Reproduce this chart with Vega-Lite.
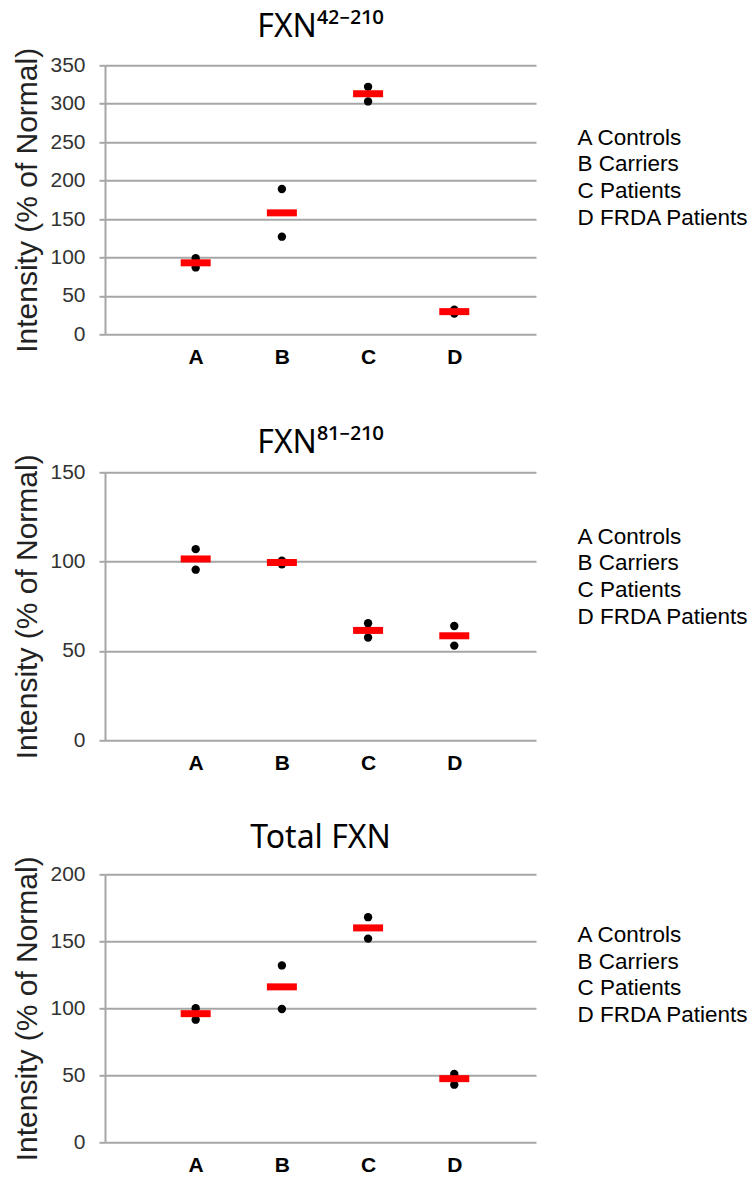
{
  "$schema": "https://vega.github.io/schema/vega-lite/v6.json",
  "background": "white",
  "padding": {"left": 12, "top": 10.3, "right": 0, "bottom": 0},
  "spacing": 59,
  "resolve": {"scale": {"color": "independent"}, "legend": {"color": "independent"}},
  "config": {
    "font": "Liberation Sans",
    "view": {"stroke": null},
    "title": {"fontSize": 32, "fontWeight": "normal", "color": "#000000", "anchor": "middle", "font": "Noto Sans"},
    "axisY": {
      "domainColor": "#a6a6a6", "domainWidth": 2,
      "gridColor": "#a6a6a6", "gridWidth": 2,
      "tickColor": "#a6a6a6", "tickWidth": 2, "tickSize": 6,
      "labelFontSize": 21, "labelColor": "#333333", "labelPadding": 14,
      "titleFontSize": 30, "titleFontWeight": "normal", "titleColor": "#222222", "titlePadding": 7
    },
    "axisX": {
      "domain": false, "ticks": false, "grid": false,
      "labelFontSize": 21, "labelFontWeight": "bold", "labelColor": "#000000", "labelPadding": 12,
      "labelAngle": 0, "title": null
    },
    "legend": {
      "orient": "none", "title": null, "padding": 0,
      "symbolSize": 0, "symbolStrokeWidth": 0, "symbolOpacity": 0,
      "labelOffset": 0, "labelFontSize": 22.5, "labelColor": "#000000",
      "rowPadding": 3.7, "labelLimit": 300
    }
  },
  "datasets": {
    "groups": [
      {"group": "A", "desc": "A Controls"},
      {"group": "B", "desc": "B Carriers"},
      {"group": "C", "desc": "C Patients"},
      {"group": "D", "desc": "D FRDA Patients"}
    ],
    "values": [
      {"panel": "p42", "group": "A", "stat": "sample", "value": 99},
      {"panel": "p42", "group": "A", "stat": "sample", "value": 87},
      {"panel": "p42", "group": "A", "stat": "mean", "value": 93},
      {"panel": "p42", "group": "B", "stat": "sample", "value": 189},
      {"panel": "p42", "group": "B", "stat": "sample", "value": 127},
      {"panel": "p42", "group": "B", "stat": "mean", "value": 158},
      {"panel": "p42", "group": "C", "stat": "sample", "value": 322},
      {"panel": "p42", "group": "C", "stat": "sample", "value": 303},
      {"panel": "p42", "group": "C", "stat": "mean", "value": 313},
      {"panel": "p42", "group": "D", "stat": "sample", "value": 32},
      {"panel": "p42", "group": "D", "stat": "sample", "value": 27},
      {"panel": "p42", "group": "D", "stat": "mean", "value": 29.5},
      {"panel": "p81", "group": "A", "stat": "sample", "value": 107},
      {"panel": "p81", "group": "A", "stat": "sample", "value": 95.5},
      {"panel": "p81", "group": "A", "stat": "mean", "value": 101.5},
      {"panel": "p81", "group": "B", "stat": "sample", "value": 100.5},
      {"panel": "p81", "group": "B", "stat": "sample", "value": 98.5},
      {"panel": "p81", "group": "B", "stat": "mean", "value": 99.5},
      {"panel": "p81", "group": "C", "stat": "sample", "value": 65.5},
      {"panel": "p81", "group": "C", "stat": "sample", "value": 57.5},
      {"panel": "p81", "group": "C", "stat": "mean", "value": 61.5},
      {"panel": "p81", "group": "D", "stat": "sample", "value": 64},
      {"panel": "p81", "group": "D", "stat": "sample", "value": 53},
      {"panel": "p81", "group": "D", "stat": "mean", "value": 58.5},
      {"panel": "total", "group": "A", "stat": "sample", "value": 100},
      {"panel": "total", "group": "A", "stat": "sample", "value": 91.5},
      {"panel": "total", "group": "A", "stat": "mean", "value": 96},
      {"panel": "total", "group": "B", "stat": "sample", "value": 132},
      {"panel": "total", "group": "B", "stat": "sample", "value": 99.5},
      {"panel": "total", "group": "B", "stat": "mean", "value": 116},
      {"panel": "total", "group": "C", "stat": "sample", "value": 168},
      {"panel": "total", "group": "C", "stat": "sample", "value": 152},
      {"panel": "total", "group": "C", "stat": "mean", "value": 160},
      {"panel": "total", "group": "D", "stat": "sample", "value": 51},
      {"panel": "total", "group": "D", "stat": "sample", "value": 43},
      {"panel": "total", "group": "D", "stat": "mean", "value": 47.5}
    ]
  },
  "vconcat": [
    {
      "title": {"text": "FXN⁴²⁻²¹⁰", "offset": 3.4},
      "width": 431, "height": 269,
      "data": {"name": "values"},
      "transform": [
        {"filter": "datum.panel === 'p42'"},
        {"lookup": "group", "from": {"data": {"name": "groups"}, "key": "group", "fields": ["desc"]}}
      ],
      "encoding": {
        "x": {"field": "group", "type": "nominal", "scale": {"type": "point", "padding": 1, "align": 0.526}},
        "y": {"field": "value", "type": "quantitative", "scale": {"domain": [0, 350], "nice": false}, "axis": {"values": [0, 50, 100, 150, 200, 250, 300, 350], "title": "Intensity (% of Normal)"}}
      },
      "layer": [
        {
          "transform": [{"filter": "datum.stat === 'sample'"}],
          "mark": {"type": "point", "filled": true, "size": 70, "opacity": 1},
          "encoding": {
            "color": {"field": "desc", "type": "nominal", "scale": {"range": ["#000000", "#000000", "#000000", "#000000"]}, "legend": {"legendX": 450, "legendY": 61}}
          }
        },
        {
          "transform": [{"filter": "datum.stat === 'mean'"}],
          "mark": {"type": "tick", "color": "#ff0000", "thickness": 7, "size": 30, "opacity": 1}
        }
      ]
    },
    {
      "spacing": 48,
      "resolve": {"scale": {"color": "independent"}, "legend": {"color": "independent"}},
      "vconcat": [
        {
          "title": {"text": "FXN⁸¹⁻²¹⁰", "offset": -6},
          "width": 431, "height": 268,
          "data": {"name": "values"},
          "transform": [
            {"filter": "datum.panel === 'p81'"},
            {"lookup": "group", "from": {"data": {"name": "groups"}, "key": "group", "fields": ["desc"]}}
          ],
          "encoding": {
            "x": {"field": "group", "type": "nominal", "scale": {"type": "point", "padding": 1, "align": 0.526}},
            "y": {"field": "value", "type": "quantitative", "scale": {"domain": [0, 150], "nice": false}, "axis": {"values": [0, 50, 100, 150], "title": "Intensity (% of Normal)"}}
          },
          "layer": [
            {
              "transform": [{"filter": "datum.stat === 'sample'"}],
              "mark": {"type": "point", "filled": true, "size": 70, "opacity": 1},
              "encoding": {
                "color": {"field": "desc", "type": "nominal", "scale": {"range": ["#000000", "#000000", "#000000", "#000000"]}, "legend": {"legendX": 450, "legendY": 53}}
              }
            },
            {
              "transform": [{"filter": "datum.stat === 'mean'"}],
              "mark": {"type": "tick", "color": "#ff0000", "thickness": 7, "size": 30, "opacity": 1}
            }
          ]
        },
        {
          "title": {"text": "Total FXN", "offset": 1},
          "width": 431, "height": 268,
          "data": {"name": "values"},
          "transform": [
            {"filter": "datum.panel === 'total'"},
            {"lookup": "group", "from": {"data": {"name": "groups"}, "key": "group", "fields": ["desc"]}}
          ],
          "encoding": {
            "x": {"field": "group", "type": "nominal", "scale": {"type": "point", "padding": 1, "align": 0.526}},
            "y": {"field": "value", "type": "quantitative", "scale": {"domain": [0, 200], "nice": false}, "axis": {"values": [0, 50, 100, 150, 200], "title": "Intensity (% of Normal)"}}
          },
          "layer": [
            {
              "transform": [{"filter": "datum.stat === 'sample'"}],
              "mark": {"type": "point", "filled": true, "size": 70, "opacity": 1},
              "encoding": {
                "color": {"field": "desc", "type": "nominal", "scale": {"range": ["#000000", "#000000", "#000000", "#000000"]}, "legend": {"legendX": 450, "legendY": 49.5}}
              }
            },
            {
              "transform": [{"filter": "datum.stat === 'mean'"}],
              "mark": {"type": "tick", "color": "#ff0000", "thickness": 7, "size": 30, "opacity": 1}
            }
          ]
        }
      ]
    }
  ]
}
